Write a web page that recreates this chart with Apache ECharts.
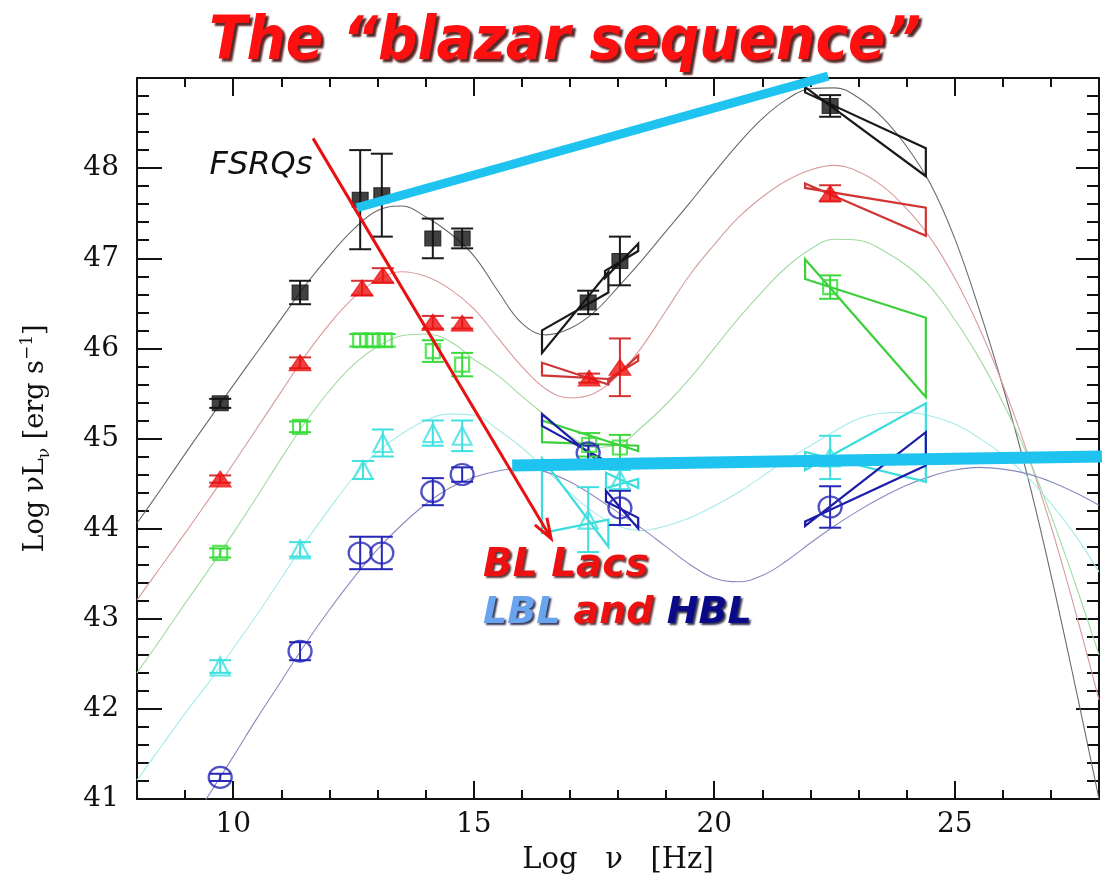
<!DOCTYPE html>
<html>
<head>
<meta charset="utf-8">
<script src="https://cdn.jsdelivr.net/npm/echarts@6/dist/echarts.min.js"></script>
<style>
  html, body { margin: 0; padding: 0; background: #ffffff; }
  #chart { width: 1102px; height: 880px; }
</style>
</head>
<body>
<div id="chart"></div>
<script>
// ---- Model SEDs (log nu vs log nuL_nu) ----
const curveNu = [8, 8.5, 9, 9.5, 10, 10.5, 11, 11.5, 12, 12.5, 13, 13.5, 14, 14.5, 15, 15.5, 16, 16.5, 17, 17.5,
  18, 18.5, 19, 19.5, 20, 20.5, 21, 21.5, 22, 22.5, 23, 23.5, 24, 24.5, 25, 25.5, 26, 26.5, 27, 27.5, 28];
const modelFSRQ = [44.06, 44.44, 44.83, 45.21, 45.59, 45.96, 46.33, 46.70, 47.03, 47.32, 47.53, 47.58, 47.46, 47.28, 47.03, 46.64,
  46.28, 46.15, 46.22, 46.40, 46.68, 46.98, 47.30, 47.62, 47.95, 48.27, 48.55, 48.76, 48.88, 48.89, 48.78, 48.56, 48.24, 47.82,
  47.22, 46.45, 45.58, 44.61, 43.49, 42.27, 41.00];
const modelRed = [43.21, 43.58, 43.95, 44.33, 44.72, 45.12, 45.52, 45.92, 46.27, 46.56, 46.76, 46.85, 46.80, 46.66, 46.44, 46.12,
  45.80, 45.55, 45.45, 45.50, 45.70, 46.02, 46.42, 46.82, 47.15, 47.45, 47.68, 47.86, 47.98, 48.03, 47.96, 47.80, 47.55, 47.22,
  46.78, 46.24, 45.60, 44.86, 44.03, 43.10, 42.10];
const modelGreen = [42.40, 42.78, 43.17, 43.55, 43.95, 44.36, 44.78, 45.18, 45.53, 45.82, 46.02, 46.14, 46.16, 46.08, 45.88, 45.70,
  45.47, 45.25, 45.03, 44.90, 44.93, 45.13, 45.38, 45.67, 46.00, 46.33, 46.63, 46.90, 47.10, 47.21, 47.20, 47.09, 46.92, 46.68,
  46.32, 45.90, 45.40, 44.83, 44.15, 43.40, 42.60];
const modelCyan = [41.21, 41.58, 41.95, 42.30, 42.67, 43.05, 43.45, 43.85, 44.22, 44.57, 44.85, 45.05, 45.20, 45.27, 45.26, 45.10,
  44.90, 44.65, 44.40, 44.18, 44.03, 43.98, 44.03, 44.12, 44.25, 44.40, 44.58, 44.76, 44.92, 45.08, 45.22, 45.28, 45.29, 45.25,
  45.16, 45.01, 44.82, 44.58, 44.28, 43.93, 43.52];
const modelBlue = [39.80, 40.20, 40.63, 41.05, 41.47, 41.90, 42.31, 42.72, 43.10, 43.45, 43.77, 44.04, 44.27, 44.45, 44.57, 44.64,
  44.67, 44.63, 44.52, 44.36, 44.18, 44.00, 43.80, 43.60, 43.45, 43.41, 43.48, 43.64, 43.84, 44.03, 44.20, 44.35, 44.48, 44.58,
  44.65, 44.68, 44.66, 44.61, 44.52, 44.40, 44.26];

// ---- Binned photometry: log nu, log nuL_nu, error ----
const fsrqNu = [9.73, 11.39, 12.64, 13.09, 14.15, 14.76, 17.38, 18.04, 22.41];
const fsrqL = [45.39, 46.62, 47.65, 47.70, 47.22, 47.22, 46.51, 46.97, 48.69];
const fsrqErr = [0.05, 0.13, 0.55, 0.46, 0.22, 0.11, 0.13, 0.27, 0.12];

const redNu = [9.73, 11.39, 12.68, 13.11, 14.15, 14.76, 17.40, 18.04, 22.41];
const redL = [44.55, 45.84, 46.67, 46.81, 46.29, 46.28, 45.67, 45.79, 47.72];
const redErr = [0.04, 0.06, 0.08, 0.08, 0.07, 0.06, 0.05, 0.32, 0.09];

const greenNu = [9.73, 11.39, 12.64, 12.90, 13.15, 14.15, 14.76, 17.40, 18.04, 22.41];
const greenL = [43.73, 45.13, 46.09, 46.09, 46.09, 45.97, 45.82, 44.93, 44.90, 46.68];
const greenErr = [0.05, 0.06, 0.07, 0.07, 0.07, 0.12, 0.13, 0.13, 0.14, 0.13];

const cyanNu = [9.73, 11.39, 12.70, 13.11, 14.15, 14.76, 17.38, 18.04, 22.41];
const cyanL = [42.47, 43.77, 44.65, 44.95, 45.06, 45.03, 44.10, 44.54, 44.79];
const cyanErr = [0.07, 0.08, 0.10, 0.15, 0.14, 0.17, 0.36, 0.11, 0.24];

const blueNu = [9.73, 11.39, 12.64, 13.09, 14.15, 14.76, 17.38, 18.04, 22.41];
const blueL = [41.24, 42.64, 43.73, 43.73, 44.41, 44.60, 44.84, 44.23, 44.24];
const blueErr = [0.04, 0.10, 0.18, 0.18, 0.15, 0.08, 0.08, 0.19, 0.23];

// ---- Spectral bow-ties: [nuLeft, lowLeft, highLeft, nuRight, lowRight, highRight] ----
const fsrqBowties = [[16.42, 45.95, 46.20, 17.80, 46.62, 46.85], [17.73, 46.78, 46.86, 18.42, 47.08, 47.16], [21.89, 48.84, 48.90, 24.40, 47.91, 48.22]];
const redBowties = [[16.42, 45.70, 45.84, 17.80, 45.60, 45.66], [17.80, 45.62, 45.66, 18.42, 45.86, 45.92], [21.89, 47.78, 47.83, 24.40, 47.25, 47.56]];
const greenBowties = [[16.42, 44.96, 45.20, 18.42, 44.86, 44.92], [21.89, 46.77, 46.99, 24.40, 45.46, 46.34]];
const cyanBowties = [[16.42, 43.95, 44.78, 17.80, 43.80, 44.10], [17.75, 44.45, 44.62, 18.42, 44.45, 44.55], [21.89, 44.65, 44.85, 24.40, 44.52, 45.39]];
const blueBowties = [[16.42, 45.14, 45.27, 17.65, 44.72, 44.78], [17.75, 44.30, 44.42, 18.42, 44.00, 44.12], [21.89, 44.03, 44.08, 24.40, 44.70, 45.07]];

// ---- Trend guides: [nu1, L1, nu2, L2] ----
const sequenceArrow = [11.66, 48.33, 16.61, 43.89];
const fsrqTrend = [12.57, 47.56, 22.37, 49.02];
const blLacTrend = [15.80, 44.70, 28.06, 44.80];

// ---- Axis ticks ----
const xMajorTicks = [10, 15, 20, 25];
const yTickLabels = [41, 42, 43, 44, 45, 46, 47, 48];

const zip = (xs, ys) => xs.map((x, i) => [x, ys[i]]);
const zip3 = (xs, ys, es) => xs.map((x, i) => [x, ys[i], es[i]]);

function modelSeries(name, ys, color) {
  return {
    name, type: 'line', data: zip(curveNu, ys), showSymbol: false, smooth: 0.4,
    lineStyle: { color, width: 1.1 }, silent: true, z: 2
  };
}

function errorSeries(name, xs, ys, es, color) {
  return {
    name: name + ' errors', type: 'custom', data: zip3(xs, ys, es), z: 4, silent: true,
    encode: { x: 0, y: 1 },
    renderItem(params, api) {
      const x = api.value(0), y = api.value(1), e = api.value(2);
      const hi = api.coord([x, y + e]), lo = api.coord([x, y - e]);
      const w = 11;
      const st = { stroke: color, lineWidth: 2 };
      return {
        type: 'group', children: [
          { type: 'line', shape: { x1: hi[0], y1: hi[1], x2: lo[0], y2: lo[1] }, style: st },
          { type: 'line', shape: { x1: hi[0] - w, y1: hi[1], x2: hi[0] + w, y2: hi[1] }, style: st },
          { type: 'line', shape: { x1: lo[0] - w, y1: lo[1], x2: lo[0] + w, y2: lo[1] }, style: st }
        ]
      };
    }
  };
}

function bowtieSeries(name, ties, color) {
  return {
    name: name + ' bow-ties', type: 'custom', data: ties, z: 3, silent: true,
    encode: { x: [0, 3], y: [1, 2, 4, 5] },
    renderItem(params, api) {
      const xl = api.value(0), l1 = api.value(1), l2 = api.value(2);
      const xr = api.value(3), r1 = api.value(4), r2 = api.value(5);
      const pts = [api.coord([xl, l2]), api.coord([xr, r1]), api.coord([xr, r2]), api.coord([xl, l1])];
      return { type: 'polygon', shape: { points: pts }, style: { fill: 'none', stroke: color, lineWidth: 2.2, lineJoin: 'miter' } };
    }
  };
}

function markerSeries(name, xs, ys, symbol, size, color, filled) {
  return {
    name, type: 'scatter', data: zip(xs, ys), symbol, symbolSize: size, z: 5, silent: true,
    itemStyle: filled ? { color, borderColor: color, borderWidth: 1 } : { color: 'rgba(0,0,0,0)', borderColor: color, borderWidth: 2.2 }
  };
}

function guideSeries(name, seg, color, width, arrow) {
  return {
    name, type: 'custom', data: [seg], z: 8, silent: true, clip: false,
    encode: { x: [0, 2], y: [1, 3] },
    renderItem(params, api) {
      const a = api.coord([api.value(0), api.value(1)]);
      const b = api.coord([api.value(2), api.value(3)]);
      const children = [];
      let end = b;
      if (arrow) {
        const dx = b[0] - a[0], dy = b[1] - a[1];
        const len = Math.hypot(dx, dy), ux = dx / len, uy = dy / len;
        const hl = 20, hw = 7;
        const base = [b[0] - ux * hl, b[1] - uy * hl];
        end = [b[0] - ux * 4, b[1] - uy * 4];
        children.push({ type: 'polyline', shape: { points: [[base[0] - uy * hw, base[1] + ux * hw], b, [base[0] + uy * hw, base[1] - ux * hw]] },
          style: { fill: 'none', stroke: color, lineWidth: width, lineJoin: 'miter' } });
      }
      children.unshift({ type: 'line', shape: { x1: a[0], y1: a[1], x2: end[0], y2: end[1] }, style: { stroke: color, lineWidth: width, lineCap: 'butt' } });
      return { type: 'group', children };
    }
  };
}

const axisColor = '#111';
const tickFont = { fontFamily: 'DejaVu Serif', fontSize: 28, color: '#111' };

function xAxisDef(position, tickLen, custom, labels) {
  const ax = {
    type: 'value', min: 8, max: 28, position, splitLine: { show: false },
    axisLine: { show: !custom, onZero: false, lineStyle: { color: axisColor, width: 2 } },
    axisTick: { inside: true, length: tickLen, lineStyle: { color: axisColor, width: 2 } },
    axisLabel: { show: false }
  };
  if (custom) { ax.axisTick.customValues = xMajorTicks; } else { ax.interval = 1; }
  if (labels) {
    ax.axisLabel = { show: true, margin: 12, ...tickFont, formatter: v => (xMajorTicks.includes(Math.round(v)) && Math.abs(v - Math.round(v)) < 1e-6) ? String(Math.round(v)) : '' };
    ax.name = 'Log   ν   [Hz]';
    ax.nameLocation = 'middle';
    ax.nameGap = 47;
    ax.nameTextStyle = { fontFamily: 'DejaVu Serif', fontSize: 29, color: '#111' };
  }
  return ax;
}

function yAxisDef(position, tickLen, interval, labels) {
  const ax = {
    type: 'value', min: 41, max: 49, interval, position, splitLine: { show: false },
    axisLine: { show: interval < 1, onZero: false, lineStyle: { color: axisColor, width: 2 } },
    axisTick: { inside: true, length: tickLen, lineStyle: { color: axisColor, width: 2 } },
    axisLabel: { show: false }
  };
  if (labels) {
    ax.axisLabel = { show: true, margin: 18, ...tickFont, formatter: v => {
      const r = Math.round(v);
      return (Math.abs(v - r) < 1e-6 && yTickLabels.includes(r)) ? String(r) : '';
    } };
    ax.name = '{a|Log νL}{s|ν}{a| [erg s}{p|−1}{a|]}';
    ax.nameLocation = 'middle';
    ax.nameRotate = 90;
    ax.nameGap = 84;
    ax.nameTextStyle = {
      rich: {
        a: { fontFamily: 'DejaVu Serif', fontSize: 27, color: '#111', lineHeight: 34 },
        s: { fontFamily: 'DejaVu Serif', fontSize: 17, color: '#111', lineHeight: 34, verticalAlign: 'bottom' },
        p: { fontFamily: 'DejaVu Serif', fontSize: 17, color: '#111', lineHeight: 34, verticalAlign: 'top' }
      }
    };
  }
  return ax;
}

const chart = echarts.init(document.getElementById('chart'), null, { renderer: 'canvas' });
const titleFont = '"DejaVu Sans"';
chart.setOption({
  animation: false,
  backgroundColor: '#ffffff',
  grid: { left: 137, right: 3, top: 78, bottom: 81, containLabel: false, outerBoundsMode: 'none' },
  xAxis: [
    xAxisDef('bottom', 9, false, true),
    xAxisDef('bottom', 18, true, false),
    xAxisDef('top', 9, false, false),
    xAxisDef('top', 18, true, false)
  ],
  yAxis: [
    yAxisDef('left', 12, 0.2, true),
    yAxisDef('left', 25, 1, false),
    yAxisDef('right', 12, 0.2, false),
    yAxisDef('right', 23, 1, false)
  ],
  series: [
    modelSeries('FSRQ model', modelFSRQ, '#6a6a6a'),
    modelSeries('red model', modelRed, '#d99a9a'),
    modelSeries('green model', modelGreen, '#9fdc9f'),
    modelSeries('cyan model', modelCyan, '#a8eaea'),
    modelSeries('blue model', modelBlue, '#8c88c0'),

    bowtieSeries('FSRQ', fsrqBowties, '#1a1a1a'),
    bowtieSeries('red', redBowties, '#d03535'),
    bowtieSeries('green', greenBowties, '#3ccf3c'),
    bowtieSeries('cyan', cyanBowties, '#3adcdc'),
    bowtieSeries('blue', blueBowties, '#1c1ca8'),

    errorSeries('FSRQ', fsrqNu, fsrqL, fsrqErr, '#1a1a1a'),
    errorSeries('red', redNu, redL, redErr, '#d83030'),
    errorSeries('green', greenNu, greenL, greenErr, '#3ad83a'),
    errorSeries('cyan', cyanNu, cyanL, cyanErr, '#3ee0e0'),
    errorSeries('blue', blueNu, blueL, blueErr, '#2626b8'),

    markerSeries('FSRQ', fsrqNu, fsrqL, 'rect', [16, 15], '#111111', true),
    markerSeries('red', redNu, redL, 'triangle', [22, 16], '#ee1010', true),
    markerSeries('green', greenNu, greenL, 'rect', [14, 14], '#33dd33', false),
    markerSeries('cyan', cyanNu, cyanL, 'triangle', [19, 18], '#40e0e0', false),
    markerSeries('blue', blueNu, blueL, 'circle', [23, 21], '#2626b8', false),

    guideSeries('FSRQ trend', fsrqTrend, '#1ec3f0', 9, false),
    guideSeries('BL Lac trend', blLacTrend, '#1ec3f0', 12, false),
    guideSeries('sequence arrow', sequenceArrow, '#e81010', 3, true)
  ],
  graphic: [
    {
      type: 'text', z: 100, x: 565, y: 43, scaleX: 0.92, scaleY: 1,
      style: {
        text: 'The “blazar sequence”', x: 0, y: 0,
        align: 'center', verticalAlign: 'middle', textAlign: 'center', textVerticalAlign: 'middle',
        font: 'italic bold 60px ' + titleFont, fill: '#ff1010',
        textShadowColor: 'rgba(60,0,0,0.85)', textShadowOffsetX: 3, textShadowOffsetY: 3, textShadowBlur: 2
      }
    },
    {
      type: 'text', z: 100,
      style: {
        text: 'FSRQs', x: 261, y: 166,
        align: 'center', verticalAlign: 'middle', textAlign: 'center', textVerticalAlign: 'middle',
        font: 'italic 32px ' + titleFont, fill: '#111111'
      }
    },
    {
      type: 'text', z: 100,
      style: {
        text: 'BL Lacs', x: 483, y: 566,
        align: 'left', verticalAlign: 'middle', textAlign: 'left', textVerticalAlign: 'middle',
        font: 'italic bold 39px ' + titleFont, fill: '#ee1111',
        textShadowColor: 'rgba(60,0,0,0.8)', textShadowOffsetX: 2, textShadowOffsetY: 2, textShadowBlur: 2
      }
    },
    {
      type: 'text', z: 100,
      style: {
        text: '{l|LBL} {r|and} {h|HBL}', x: 483, y: 613,
        align: 'left', verticalAlign: 'middle', textAlign: 'left', textVerticalAlign: 'middle',
        font: 'italic bold 38px ' + titleFont,
        rich: {
          l: { font: 'italic bold 38px ' + titleFont, fill: '#6aa3ee', textShadowColor: 'rgba(20,20,60,0.85)', textShadowOffsetX: 2, textShadowOffsetY: 2, textShadowBlur: 2 },
          r: { font: 'italic bold 38px ' + titleFont, fill: '#ee1111', textShadowColor: 'rgba(60,0,0,0.8)', textShadowOffsetX: 2, textShadowOffsetY: 2, textShadowBlur: 2 },
          h: { font: 'italic bold 38px ' + titleFont, fill: '#0a0a88', textShadowColor: 'rgba(0,0,30,0.8)', textShadowOffsetX: 2, textShadowOffsetY: 2, textShadowBlur: 2 }
        }
      }
    }
  ]
});
</script>
</body>
</html>
